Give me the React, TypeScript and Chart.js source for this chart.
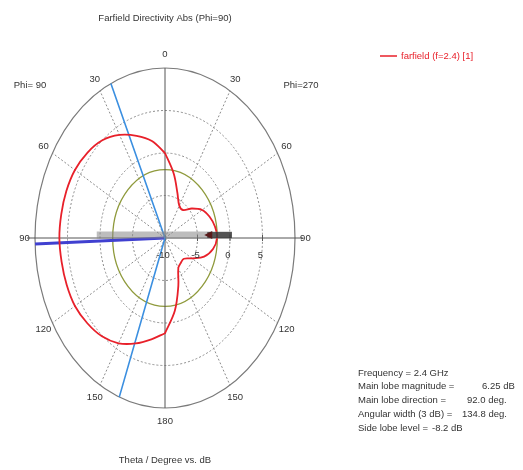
import React, { useEffect, useRef } from "react";
import { Chart, registerables } from "chart.js";

Chart.register(...registerables);

// ---- data ----
const thetaDeg = [0, 10, 20, 30, 40, 50, 60, 70, 80, 90, 100, 110, 120, 130, 140, 150, 160, 170, 180];
// Phi = 90 half-plane (drawn on the left)
const phi90Db = [0.0, 1.6, 2.8, 4.0, 5.0, 5.6, 6.0, 6.15, 6.2, 6.25, 6.15, 6.1, 6.0, 5.6, 5.1, 4.3, 3.2, 2.1, 1.2];
// Phi = 270 half-plane (drawn on the right)
const phi270Db = [0.0, -2.3, -4.4, -5.6, -5.7, -4.6, -3.4, -2.7, -2.2, -2.0, -2.5, -3.6, -5.2, -6.2, -6.2, -5.9, -4.0, -1.3, 1.2];

const radialTicks = [-10, -5, 0, 5];
const angleTicks = [0, 30, 60, 90, 120, 150, 180];
const minDb = -10;
const maxDb = 10;

const mainLobeMagnitude = 6.25;
const mainLobeDirection = 92.0;
const angularWidth = 134.8;
const sideLobeLevel = -8.2;

const titleText = "Farfield Directivity Abs (Phi=90)";
const axisText = "Theta / Degree vs. dB";
const legendText = "farfield (f=2.4) [1]";
const infoLabels = ["Frequency = 2.4 GHz", "Main lobe magnitude =", "Main lobe direction =", "Angular width (3 dB) =", "Side lobe level ="];
const infoValues = ["", "6.25 dB", "92.0 deg.", "134.8 deg.", "-8.2 dB"];

const R = maxDb - minDb;
const rad = (d: number) => (d * Math.PI) / 180;
// side = -1 for Phi=90 (left), +1 for Phi=270 (right)
function toXY(theta: number, db: number, side: number) {
  const r = Math.max(0, db - minDb);
  return { x: side * r * Math.sin(rad(theta)), y: r * Math.cos(rad(theta)) };
}

const FONT = "'Liberation Sans', Arial, sans-serif";

export default function App() {
  const ref = useRef<HTMLCanvasElement>(null);
  useEffect(() => {
    if (!ref.current) return;

    const curve = [
      ...thetaDeg.map((t, i) => toXY(t, phi90Db[i], -1)),
      ...thetaDeg.slice().reverse().map((t, i) => toXY(t, phi270Db[thetaDeg.length - 1 - i], 1)),
    ];

    const lowerDir = mainLobeDirection - angularWidth / 2;
    const upperDir = mainLobeDirection + angularWidth / 2;
    const beamLines = [toXY(lowerDir, maxDb, -1), { x: 0, y: 0 }, toXY(upperDir, maxDb, -1)];
    const mainDir = [{ x: 0, y: 0 }, toXY(mainLobeDirection, maxDb, -1)];
    const barLift = 0.35;
    const greyBar = [
      { x: toXY(90, 0.5, -1).x, y: barLift },
      { x: toXY(90, 0.3, 1).x, y: barLift },
    ];
    const darkBar = [
      { x: toXY(90, -3.5, 1).x, y: barLift },
      { x: toXY(90, 0.3, 1).x, y: barLift },
    ];
    const sideLobeR = mainLobeMagnitude + sideLobeLevel - minDb;

    const gridPlugin = {
      id: "polarGrid",
      beforeDatasetsDraw(chart: any) {
        const { ctx } = chart;
        const xs = chart.scales.x;
        const ys = chart.scales.y;
        const cx = xs.getPixelForValue(0);
        const cy = ys.getPixelForValue(0);
        const px = (r: number) => xs.getPixelForValue(r) - cx;
        const py = (r: number) => cy - ys.getPixelForValue(r);
        ctx.save();
        ctx.strokeStyle = "#8c8c8c";
        ctx.lineWidth = 1;
        ctx.setLineDash([2, 2]);
        [5, 10, 15].forEach((r) => {
          ctx.beginPath();
          ctx.ellipse(cx, cy, px(r), py(r), 0, 0, Math.PI * 2);
          ctx.stroke();
        });
        [30, 60, 120, 150].forEach((a) => {
          [-1, 1].forEach((s) => {
            const p = toXY(a, maxDb, s);
            ctx.beginPath();
            ctx.moveTo(cx, cy);
            ctx.lineTo(xs.getPixelForValue(p.x), ys.getPixelForValue(p.y));
            ctx.stroke();
          });
        });
        ctx.setLineDash([]);
        ctx.strokeStyle = "#8f9a3c";
        ctx.lineWidth = 1.3;
        ctx.beginPath();
        ctx.ellipse(cx, cy, px(sideLobeR), py(sideLobeR), 0, 0, Math.PI * 2);
        ctx.stroke();
        ctx.strokeStyle = "#7a7a7a";
        ctx.lineWidth = 1.2;
        ctx.beginPath();
        ctx.ellipse(cx, cy, px(R), py(R), 0, 0, Math.PI * 2);
        ctx.stroke();
        ctx.strokeStyle = "#555";
        ctx.lineWidth = 1;
        ctx.beginPath();
        ctx.moveTo(cx, cy - py(R));
        ctx.lineTo(cx, cy + py(R));
        ctx.moveTo(cx - px(R) - 8, cy);
        ctx.lineTo(cx + px(R) + 8, cy);
        ctx.stroke();
        radialTicks.forEach((t) => {
          const x = cx + px(t - minDb);
          ctx.beginPath();
          ctx.moveTo(x, cy - 3);
          ctx.lineTo(x, cy + 3);
          ctx.stroke();
        });
        ctx.restore();
      },
      afterDraw(chart: any) {
        const { ctx } = chart;
        const xs = chart.scales.x;
        const ys = chart.scales.y;
        const cx = xs.getPixelForValue(0);
        const cy = ys.getPixelForValue(0);
        ctx.save();
        // arrow tip at the inner end of the dark bar
        const tipX = xs.getPixelForValue(darkBar[0].x);
        const tipY = ys.getPixelForValue(barLift);
        ctx.fillStyle = "#5a1a1a";
        ctx.beginPath();
        ctx.moveTo(tipX - 3, tipY);
        ctx.lineTo(tipX + 5, tipY - 4);
        ctx.lineTo(tipX + 5, tipY + 4);
        ctx.closePath();
        ctx.fill();

        ctx.fillStyle = "#333";
        ctx.font = `9.5px ${FONT}`;
        ctx.textAlign = "center";
        ctx.textBaseline = "middle";
        ctx.fillText(titleText, cx, 18);
        angleTicks.forEach((a) => {
          const sides = a === 0 || a === 180 ? [1] : [-1, 1];
          sides.forEach((s) => {
            const p = toXY(a, maxDb + 1.6, s);
            ctx.fillText(String(a), xs.getPixelForValue(p.x), ys.getPixelForValue(p.y));
          });
        });
        radialTicks.forEach((t) => {
          const x = xs.getPixelForValue(t - minDb);
          ctx.fillText(String(t), x - 2, cy + 17);
        });
        ctx.fillText("Phi= 90", 30, 85);
        ctx.fillText("Phi=270", 301, 85);
        ctx.fillText(axisText, cx, 460);
        ctx.strokeStyle = "#e8202a";
        ctx.lineWidth = 1.5;
        ctx.beginPath();
        ctx.moveTo(380, 56);
        ctx.lineTo(397, 56);
        ctx.stroke();
        ctx.fillStyle = "#e8202a";
        ctx.textAlign = "left";
        ctx.fillText(legendText, 401, 56);
        ctx.fillStyle = "#333";
        const vx = [0, 482, 467, 462, 432];
        infoLabels.forEach((l, i) => {
          const y = 373 + i * 13.8;
          ctx.fillText(l, 358, y);
          if (infoValues[i]) ctx.fillText(infoValues[i], vx[i], y);
        });
        ctx.restore();
      },
    };

    const chart = new Chart(ref.current, {
      type: "scatter",
      data: {
        datasets: [
          { data: mainDir, showLine: true, borderColor: "#4040d0", borderWidth: 3, pointRadius: 0, order: 5 } as any,
          { data: beamLines, showLine: true, borderColor: "#3b8fe0", borderWidth: 1.6, pointRadius: 0, order: 4 } as any,
          { data: curve, showLine: true, borderColor: "#e8202a", borderWidth: 1.8, pointRadius: 0, tension: 0.35, order: 3 } as any,
          { data: greyBar, showLine: true, borderColor: "rgba(135,135,135,0.55)", borderWidth: 7, pointRadius: 0, order: 2 } as any,
          { data: darkBar, showLine: true, borderColor: "rgba(40,40,40,0.7)", borderWidth: 6, pointRadius: 0, order: 1 } as any,
        ],
      },
      options: {
        responsive: false,
        animation: false,
        layout: { padding: { left: 35, right: 228, top: 68, bottom: 62 } },
        scales: {
          x: { type: "linear", min: -R, max: R, display: false },
          y: { type: "linear", min: -R, max: R, display: false },
        },
        plugins: { legend: { display: false }, tooltip: { enabled: false }, title: { display: false } },
      },
      plugins: [gridPlugin],
    });
    return () => chart.destroy();
  }, []);

  return (
    <canvas ref={ref} width={523} height={470} style={{ position: "fixed", left: 0, top: 0, background: "#fff" }} />
  );
}
